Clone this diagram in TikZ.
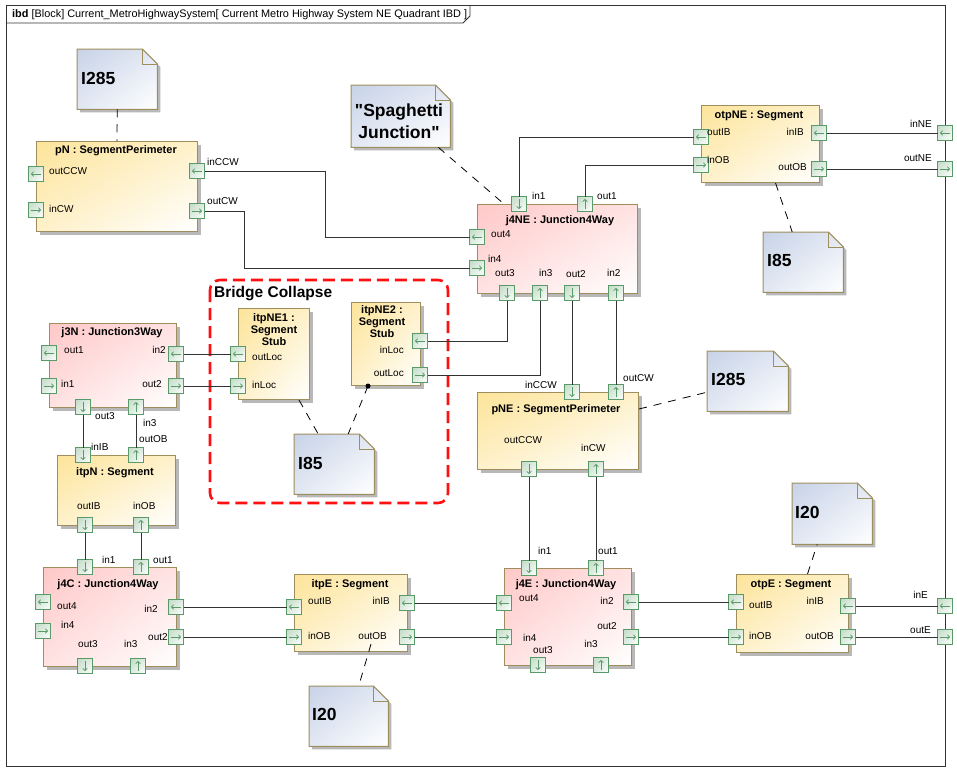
\documentclass[tikz,border=0pt]{standalone}
\usepackage{fontspec}
\setmainfont{Liberation Sans}
\usetikzlibrary{positioning,shadings,shadows,arrows.meta}

\definecolor{blkline}{HTML}{9E8E5E}
\definecolor{ylwdark}{HTML}{FDE49A}
\definecolor{ylwmid}{HTML}{FEF1CA}
\definecolor{pnkdark}{HTML}{FFC8C8}
\definecolor{pnkmid}{HTML}{FFE2E2}
\definecolor{notedark}{HTML}{C8D3E8}
\definecolor{notemid}{HTML}{E2E8F3}
\definecolor{portline}{HTML}{5A9A68}
\definecolor{portdark}{HTML}{C2DBC7}
\definecolor{portmid}{HTML}{E0EDE2}
\definecolor{shadowgray}{HTML}{B8B8B8}
\definecolor{wire}{HTML}{333333}
\definecolor{bridgered}{HTML}{FF1010}

\tikzset{
  sh/.style={drop shadow={shadow xshift=3pt,shadow yshift=-3pt,opacity=1,fill=shadowgray}},
  blk/.style={draw=blkline, line width=1pt, anchor=north west, inner sep=0pt, sh},
  ylw/.style={blk, upper left=ylwdark, upper right=ylwmid, lower left=ylwmid, lower right=white},
  pnk/.style={blk, upper left=pnkdark, upper right=pnkmid, lower left=pnkmid, lower right=white},
  port/.style={draw=portline, line width=0.7pt, minimum size=15pt, inner sep=0pt, outer sep=0pt,
    upper left=portdark, upper right=portmid, lower left=portmid, lower right=white},
  parrow/.style={draw=portline, line width=0.8pt, -{Straight Barb[length=2pt,width=4.5pt]}},
  portl/.style={port, path picture={\draw[parrow] ([xshift=5pt]path picture bounding box.center) -- ([xshift=-5pt]path picture bounding box.center);}},
  portr/.style={port, path picture={\draw[parrow] ([xshift=-5pt]path picture bounding box.center) -- ([xshift=5pt]path picture bounding box.center);}},
  portu/.style={port, path picture={\draw[parrow] ([yshift=-5pt]path picture bounding box.center) -- ([yshift=5pt]path picture bounding box.center);}},
  portd/.style={port, path picture={\draw[parrow] ([yshift=5pt]path picture bounding box.center) -- ([yshift=-5pt]path picture bounding box.center);}},
  lbl/.style={inner sep=0pt, anchor=base west, font=\fontsize{10}{12}\selectfont},
  lble/.style={lbl, anchor=base east},
  ttl/.style={inner sep=0pt, anchor=base, font=\bfseries\fontsize{11}{12}\selectfont},
  ntxt/.style={inner sep=0pt, anchor=base west, font=\bfseries\fontsize{17.5}{22}\selectfont},
  notebg/.style={anchor=north west, inner sep=0pt},
  notefill/.style={draw=blkline, line width=1pt, shade, upper left=notedark, upper right=notemid, lower left=notemid, lower right=white, sh},
  noteline/.style={draw=blkline, line width=1pt},
  conn/.style={draw=wire, line width=0.9pt},
  anc/.style={draw=black, line width=0.8pt, dash pattern=on 8pt off 7pt},
  bridge/.style={draw=bridgered, line width=2.6pt, dash pattern=on 12pt off 6pt, rounded corners=10pt},
  frameline/.style={draw=wire, line width=0.9pt}
}

% note with a folded corner
\newcommand{\notebox}[4]{%
  \node[notebg, minimum width=#3pt, minimum height=#4pt] (#1) at (#2) {};
  \path[notefill] (#1.north west) -- ([xshift=-15pt]#1.north east) -- ([yshift=-15pt]#1.north east)
    -- (#1.south east) -- (#1.south west) -- cycle;
  \draw[noteline] ([xshift=-15pt]#1.north east) |- ([yshift=-15pt]#1.north east);
}

\begin{document}
\begin{tikzpicture}[x=1pt,y=-1pt]
\useasboundingbox[fill=white] (0,0) rectangle (957,771);

% frame
\draw[frameline] (6,5) rectangle (945,766);
\draw[frameline] (6,23) -- (463,23) -- (470,16) -- (470,5);
\node[lbl, font=\fontsize{10.9}{12}\selectfont] (frtitle) at (12,17.5) {\textbf{ibd} [Block] Current\_MetroHighwaySystem[ Current Metro Highway System NE Quadrant IBD ]};

% notes
\notebox{nI285a}{77,49}{80}{60}
\notebox{nSJ}{351,85}{99}{62}
\notebox{nI85a}{763,232}{80}{60}
\notebox{nI285b}{707,351}{81}{60}
\notebox{nI85b}{294,434}{80}{60}
\notebox{nI20a}{792,483}{80}{61}
\notebox{nI20b}{309,686}{79}{60}
\node[ntxt] (tI285a) at (81,84) {I285};
\node[ntxt, anchor=north, align=center] (tSJ) at (399,104) {\textquotedbl Spaghetti\\Junction\textquotedbl};
\node[ntxt] (tI85a) at (767,266) {I85};
\node[ntxt] (tI285b) at (711,385) {I285};
\node[ntxt] (tI85b) at (298,469) {I85};
\node[ntxt] (tI20a) at (795,518) {I20};
\node[ntxt] (tI20b) at (312,720) {I20};

% bridge collapse group
\draw[bridge] (210,280) rectangle (448,503);
\node[inner sep=0pt, anchor=base west, font=\bfseries\fontsize{15.5}{18}\selectfont] (tbc) at (214,297) {Bridge Collapse};

% blocks
\node[ylw, minimum width=161pt, minimum height=90pt] (pN) at (36,141) {};
\node[pnk, minimum width=160pt, minimum height=89pt] (j4NE) at (477,204) {};
\node[ylw, minimum width=118pt, minimum height=77pt] (otpNE) at (701,105) {};
\node[pnk, minimum width=127pt, minimum height=84pt] (j3N) at (49,323) {};
\node[ylw, minimum width=118pt, minimum height=70pt] (itpN) at (57,455) {};
\node[pnk, minimum width=133pt, minimum height=99pt] (j4C) at (43,567) {};
\node[ylw, minimum width=113pt, minimum height=77pt] (itpE) at (294,574) {};
\node[pnk, minimum width=127pt, minimum height=97pt] (j4E) at (504,568) {};
\node[ylw, minimum width=112pt, minimum height=78pt] (otpE) at (736,574) {};
\node[ylw, minimum width=161pt, minimum height=77pt] (pNE) at (477,392) {};
\node[ylw, minimum width=71pt, minimum height=91pt] (itpNE1) at (238,308) {};
\node[ylw, minimum width=69pt, minimum height=83pt] (itpNE2) at (351,302) {};

% block titles
\node[ttl] (tpN) at (116,153) {pN : SegmentPerimeter};
\node[ttl] (tj4NE) at (560,223) {j4NE : Junction4Way};
\node[ttl] (totpNE) at (759,118) {otpNE : Segment};
\node[ttl] (tj3N) at (112,335) {j3N : Junction3Way};
\node[ttl] (titpN) at (115,475) {itpN : Segment};
\node[ttl] (tj4C) at (108,587) {j4C : Junction4Way};
\node[ttl] (titpE) at (350,587) {itpE : Segment};
\node[ttl] (tj4E) at (566,587) {j4E : Junction4Way};
\node[ttl] (totpE) at (791,587) {otpE : Segment};
\node[ttl] (tpNE) at (556,412) {pNE : SegmentPerimeter};
\node[ttl, anchor=north, align=center] (titpNE1) at (274,313) {itpNE1 :\\Segment\\Stub};
\node[ttl, anchor=north, align=center] (titpNE2) at (382,305) {itpNE2 :\\Segment\\Stub};

% ports
\node[portl] (pNoutCCW) at (36,174) {};
\node[portr] (pNinCW) at (36,210) {};
\node[portl] (pNinCCW) at (197,171) {};
\node[portr] (pNoutCW) at (197,211) {};

\node[portd] (j4NEin1) at (519,204) {};
\node[portu] (j4NEout1) at (585,204) {};
\node[portl] (j4NEout4) at (477,237) {};
\node[portr] (j4NEin4) at (477,268) {};
\node[portd] (j4NEout3) at (507,293) {};
\node[portu] (j4NEin3) at (540,293) {};
\node[portd] (j4NEout2) at (572,293) {};
\node[portu] (j4NEin2) at (616,293) {};

\node[portl] (otpNEoutIB) at (701,137) {};
\node[portr] (otpNEinOB) at (701,165) {};
\node[portl] (otpNEinIB) at (819,133) {};
\node[portr] (otpNEoutOB) at (819,169) {};
\node[portl] (frinNE) at (945,133) {};
\node[portr] (froutNE) at (945,169) {};

\node[portl] (j3Nout1) at (49,353) {};
\node[portr] (j3Nin1) at (49,386) {};
\node[portl] (j3Nin2) at (176,354) {};
\node[portr] (j3Nout2) at (176,386) {};
\node[portd] (j3Nout3) at (83,407) {};
\node[portu] (j3Nin3) at (136,407) {};

\node[portd] (itpNinIB) at (83,455) {};
\node[portu] (itpNoutOB) at (136,455) {};
\node[portd] (itpNoutIB) at (85,525) {};
\node[portu] (itpNinOB) at (141,525) {};

\node[portd] (j4Cin1) at (85,567) {};
\node[portu] (j4Cout1) at (141,567) {};
\node[portl] (j4Cout4) at (43,602) {};
\node[portr] (j4Cin4) at (43,631) {};
\node[portl] (j4Cin2) at (176,607) {};
\node[portr] (j4Cout2) at (176,637) {};
\node[portd] (j4Cout3) at (85,666) {};
\node[portu] (j4Cin3) at (138,666) {};

\node[portl] (itpEoutIB) at (294,607) {};
\node[portr] (itpEinOB) at (294,637) {};
\node[portl] (itpEinIB) at (407,603) {};
\node[portr] (itpEoutOB) at (407,637) {};

\node[portd] (j4Ein1) at (529,568) {};
\node[portu] (j4Eout1) at (596,568) {};
\node[portl] (j4Eout4) at (504,603) {};
\node[portr] (j4Ein4) at (504,637) {};
\node[portl] (j4Ein2) at (631,602) {};
\node[portr] (j4Eout2) at (631,637) {};
\node[portd] (j4Eout3) at (538,665) {};
\node[portu] (j4Ein3) at (601,665) {};

\node[portl] (otpEoutIB) at (736,602) {};
\node[portr] (otpEinOB) at (736,637) {};
\node[portl] (otpEinIB) at (848,606) {};
\node[portr] (otpEoutOB) at (848,637) {};
\node[portl] (frinE) at (945,606) {};
\node[portr] (froutE) at (945,637) {};

\node[portd] (pNEinCCW) at (572,392) {};
\node[portu] (pNEoutCW) at (616,392) {};
\node[portd] (pNEoutCCW) at (529,469) {};
\node[portu] (pNEinCW) at (596,469) {};

\node[portl] (itpNE1outLoc) at (238,354) {};
\node[portr] (itpNE1inLoc) at (238,386) {};
\node[portl] (itpNE2inLoc) at (420,341) {};
\node[portr] (itpNE2outLoc) at (420,375) {};

% port labels
\node[lbl] (lpNoutCCW) at (49,174) {outCCW};
\node[lbl] (lpNinCW) at (49,212) {inCW};
\node[lbl] (lpNinCCW) at (207,165) {inCCW};
\node[lbl] (lpNoutCW) at (207,204) {outCW};

\node[lbl] (lj4NEin1) at (532,199) {in1};
\node[lbl] (lj4NEout1) at (597,199) {out1};
\node[lbl] (lj4NEout4) at (491,237) {out4};
\node[lbl] (lj4NEin4) at (488,262) {in4};
\node[lbl] (lj4NEout3) at (495,276) {out3};
\node[lbl] (lj4NEin3) at (539,276) {in3};
\node[lbl] (lj4NEout2) at (566,277) {out2};
\node[lbl] (lj4NEin2) at (607,276) {in2};

\node[lbl] (lotpNEoutIB) at (707,135) {outIB};
\node[lbl] (lotpNEinOB) at (707,163) {inOB};
\node[lble] (lotpNEinIB) at (804,135) {inIB};
\node[lble] (lotpNEoutOB) at (807,170) {outOB};
\node[lble] (lfrinNE) at (932,127) {inNE};
\node[lble] (lfroutNE) at (932,161) {outNE};

\node[lbl] (lj3Nout1) at (64,353) {out1};
\node[lbl] (lj3Nin1) at (61,387) {in1};
\node[lble] (lj3Nin2) at (166,353) {in2};
\node[lble] (lj3Nout2) at (162,387) {out2};
\node[lbl] (lj3Nout3) at (95,419) {out3};
\node[lbl] (lj3Nin3) at (143,426) {in3};

\node[lbl] (litpNinIB) at (91,450) {inIB};
\node[lbl] (litpNoutOB) at (139,442) {outOB};
\node[lbl] (litpNoutIB) at (77,509) {outIB};
\node[lbl] (litpNinOB) at (133,509) {inOB};

\node[lbl] (lj4Cin1) at (102,563) {in1};
\node[lbl] (lj4Cout1) at (153,563) {out1};
\node[lbl] (lj4Cout4) at (57,609) {out4};
\node[lbl] (lj4Cin4) at (61,628) {in4};
\node[lble] (lj4Cin2) at (158,612) {in2};
\node[lbl] (lj4Cout2) at (148,640) {out2};
\node[lbl] (lj4Cout3) at (78,647) {out3};
\node[lbl] (lj4Cin3) at (124,647) {in3};

\node[lbl] (litpEoutIB) at (308,604) {outIB};
\node[lbl] (litpEinOB) at (308,639) {inOB};
\node[lble] (litpEinIB) at (390,604) {inIB};
\node[lble] (litpEoutOB) at (387,639) {outOB};

\node[lbl] (lj4Ein1) at (538,554) {in1};
\node[lbl] (lj4Eout1) at (598,554) {out1};
\node[lbl] (lj4Eout4) at (519,601) {out4};
\node[lbl] (lj4Ein4) at (523,641) {in4};
\node[lble] (lj4Ein2) at (614,604) {in2};
\node[lble] (lj4Eout2) at (617,629) {out2};
\node[lble] (lj4Ein3) at (598,647) {in3};
\node[lbl] (lj4Eout3) at (533,653) {out3};

\node[lbl] (lotpEoutIB) at (749,608) {outIB};
\node[lbl] (lotpEinOB) at (749,639) {inOB};
\node[lble] (lotpEinIB) at (824,604) {inIB};
\node[lble] (lotpEoutOB) at (834,639) {outOB};
\node[lble] (lfrinE) at (928,598) {inE};
\node[lble] (lfroutE) at (931,633) {outE};

\node[lble] (lpNEinCCW) at (557,388) {inCCW};
\node[lbl] (lpNEoutCW) at (623,381) {outCW};
\node[lbl] (lpNEoutCCW) at (504,443) {outCCW};
\node[lbl] (lpNEinCW) at (581,451) {inCW};

\node[lbl] (litpNE1outLoc) at (252,360) {outLoc};
\node[lbl] (litpNE1inLoc) at (252,388) {inLoc};
\node[lble] (litpNE2inLoc) at (404,353) {inLoc};
\node[lble] (litpNE2outLoc) at (404,376) {outLoc};

% connectors
\draw[conn] (pNinCCW.east) -- ++(121,0) |- (j4NEout4.west);
\draw[conn] (pNoutCW.east) -- ++(40,0) |- (j4NEin4.west);
\draw[conn] (j4NEin1.north) |- (otpNEoutIB.west);
\draw[conn] (j4NEout1.north) |- (otpNEinOB.west);
\draw[conn] (otpNEinIB.east) -- (frinNE.west);
\draw[conn] (otpNEoutOB.east) -- (froutNE.west);
\draw[conn] (j4NEout3.south) |- (itpNE2inLoc.east);
\draw[conn] (j4NEin3.south) |- (itpNE2outLoc.east);
\draw[conn] (j4NEout2.south) -- (pNEinCCW.north);
\draw[conn] (j4NEin2.south) -- (pNEoutCW.north);
\draw[conn] (j3Nin2.east) -- (itpNE1outLoc.west);
\draw[conn] (j3Nout2.east) -- (itpNE1inLoc.west);
\draw[conn] (j3Nout3.south) -- (itpNinIB.north);
\draw[conn] (j3Nin3.south) -- (itpNoutOB.north);
\draw[conn] (itpNoutIB.south) -- (j4Cin1.north);
\draw[conn] (itpNinOB.south) -- (j4Cout1.north);
\draw[conn] (j4Cin2.east) -- (itpEoutIB.west);
\draw[conn] (j4Cout2.east) -- (itpEinOB.west);
\draw[conn] (itpEinIB.east) -- (j4Eout4.west);
\draw[conn] (itpEoutOB.east) -- (j4Ein4.west);
\draw[conn] (pNEoutCCW.south) -- (j4Ein1.north);
\draw[conn] (pNEinCW.south) -- (j4Eout1.north);
\draw[conn] (j4Ein2.east) -- (otpEoutIB.west);
\draw[conn] (j4Eout2.east) -- (otpEinOB.west);
\draw[conn] (otpEinIB.east) -- (frinE.west);
\draw[conn] (otpEoutOB.east) -- (froutE.west);

% note anchors
\draw[anc] (nI285a.south) -- (pN.north);
\draw[anc] ([xshift=-12pt]nSJ.south east) -- ([xshift=27pt]j4NE.north west);
\draw[anc] ([xshift=15pt]otpNE.south) -- ([xshift=-11pt]nI85a.north);
\draw[anc] ([yshift=22pt]pNE.east) -- ([yshift=-11pt]nI285b.west);
\draw[anc] ([xshift=25pt]itpNE1.south) -- ([xshift=-16pt]nI85b.north);
\fill (itpNE2.south) ++(-18pt,0) circle (2.5pt) coordinate (dot);
\draw[anc] (dot) -- ([xshift=14pt]nI85b.north);
\draw[anc] ([xshift=15pt]otpE.north) -- ([xshift=-15pt]nI20a.south);
\draw[anc] ([xshift=20pt,yshift=8pt]itpE.south) -- ([xshift=10pt]nI20b.north);
\end{tikzpicture}
\end{document}
